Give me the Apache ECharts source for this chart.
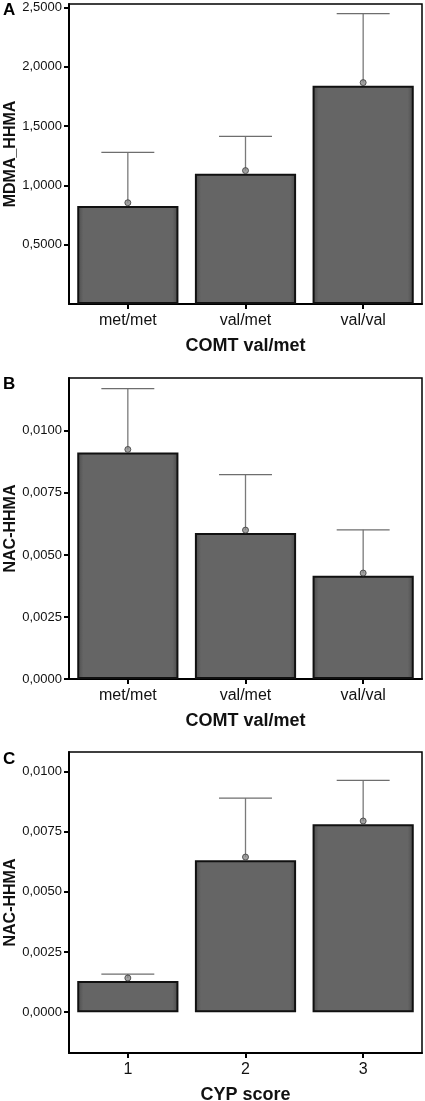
<!DOCTYPE html>
<html>
<head>
<meta charset="utf-8">
<script src="https://cdn.jsdelivr.net/npm/echarts@6/dist/echarts.min.js"></script>
<style>
html,body{margin:0;padding:0;background:#fff;}
#chart{width:425px;height:1101px;}
</style>
</head>
<body>
<div id="chart"></div>
<script>
// ---- data ----
const categoriesAB = ['met/met', 'val/met', 'val/val'];
const categoriesC = ['1', '2', '3'];

const barA = [0.826, 1.099, 1.841];
const meanA = [0.854, 1.125, 1.867];
const errTopA = [1.279, 1.413, 2.448];

const barB = [0.00913, 0.00588, 0.00416];
const meanB = [0.00925, 0.00600, 0.00427];
const errTopB = [0.0117, 0.00824, 0.00601];

const barC = [0.00129, 0.00632, 0.00781];
const meanC = [0.00142, 0.00645, 0.00795];
const errTopC = [0.00158, 0.00890, 0.00964];

const ticksA = [0.5, 1.0, 1.5, 2.0, 2.5];
const ticksBC = [0, 0.0025, 0.005, 0.0075, 0.01];

const panelLetters = ['A', 'B', 'C'];
const yNames = ['MDMA_HHMA', 'NAC-HHMA', 'NAC-HHMA'];
const xNames = ['COMT val/met', 'COMT val/met', 'CYP score'];

// ---- layout ----
const FONT = 'Liberation Sans, Arial, sans-serif';
const grids = [
  { left: 69, right: 3, top: 4, height: 300 },
  { left: 69, right: 3, top: 378, height: 301 },
  { left: 69, right: 3, top: 752, height: 301 }
];
const yRanges = [[0, 2.53], [0, 0.01213], [-0.0017, 0.01082]];
const yTicks = [ticksA, ticksBC, ticksBC];
const cats = [categoriesAB, categoriesAB, categoriesC];
const bars = [barA, barB, barC];
const means = [meanA, meanB, meanC];
const errs = [errTopA, errTopB, errTopC];

const fmt = v => Number(v).toFixed(4).replace('.', ',');

const barColor = {
  type: 'linear', x: 0, y: 0, x2: 1, y2: 0,
  colorStops: [
    { offset: 0, color: '#4a4a4a' },
    { offset: 0.06, color: '#656565' },
    { offset: 0.94, color: '#656565' },
    { offset: 1, color: '#4a4a4a' }
  ]
};

const option = {
  animation: false,
  backgroundColor: '#fff',
  textStyle: { fontFamily: FONT },
  grid: grids.map(g => Object.assign({
    show: true, borderColor: '#000', borderWidth: 1.5, backgroundColor: 'transparent',
    containLabel: false, outerBoundsMode: 'none'
  }, g)),
  xAxis: [0, 1, 2].map(i => ({
    type: 'category', gridIndex: i, data: cats[i],
    axisLine: { show: true, onZero: false, lineStyle: { color: '#000', width: 2 } },
    axisTick: { show: true, alignWithLabel: true, length: 5, lineStyle: { color: '#000', width: 2 } },
    axisLabel: { color: '#111', fontSize: 16, fontFamily: FONT, margin: 9 },
    name: xNames[i], nameLocation: 'middle', nameGap: 33, nameMoveOverlap: false,
    nameTextStyle: { color: '#111', fontSize: 18, fontWeight: 'bold', fontFamily: FONT },
    splitLine: { show: false }
  })),
  yAxis: [0, 1, 2].map(i => ({
    type: 'value', gridIndex: i, min: yRanges[i][0], max: yRanges[i][1],
    axisLine: { show: true, onZero: false, lineStyle: { color: '#000', width: 2 } },
    axisTick: { show: true, length: 5, lineStyle: { color: '#000', width: 2 }, customValues: yTicks[i] },
    axisLabel: { color: '#111', fontSize: 13, fontFamily: FONT, margin: 7, customValues: yTicks[i], formatter: fmt },
    splitLine: { show: false },
    name: yNames[i], nameLocation: 'middle', nameGap: 50, nameRotate: 90, nameMoveOverlap: false,
    nameTextStyle: { color: '#111', fontSize: 16, fontWeight: 'bold', fontFamily: FONT }
  })),
  series: []
};

for (let i = 0; i < 3; i++) {
  option.series.push({
    type: 'bar', xAxisIndex: i, yAxisIndex: i, data: bars[i], barWidth: '86%',
    itemStyle: { color: barColor, borderColor: '#111', borderWidth: 2 },
    z: 2
  });
  option.series.push({
    type: 'custom', xAxisIndex: i, yAxisIndex: i,
    data: means[i].map((m, k) => [k, m, errs[i][k]]),
    renderItem: function (params, api) {
      const x = api.value(0);
      const p0 = api.coord([x, api.value(1)]);
      const p1 = api.coord([x, api.value(2)]);
      const half = api.size([1, 0])[0] * 0.225;
      return {
        type: 'group',
        children: [
          { type: 'line', shape: { x1: p0[0], y1: p0[1], x2: p1[0], y2: p1[1] }, style: { stroke: '#7a7a7a', lineWidth: 1.3 } },
          { type: 'line', shape: { x1: p1[0] - half, y1: p1[1], x2: p1[0] + half, y2: p1[1] }, style: { stroke: '#6e6e6e', lineWidth: 1.3 } }
        ]
      };
    },
    z: 3
  });
  option.series.push({
    type: 'scatter', xAxisIndex: i, yAxisIndex: i,
    data: means[i].map((m, k) => [k, m]),
    symbol: 'circle', symbolSize: 6,
    itemStyle: { color: '#8a8a8a', borderColor: '#3a3a3a', borderWidth: 1 },
    z: 4
  });
}

option.graphic = panelLetters.map((t, i) => ({
  type: 'text', left: 3, top: [2, 376, 751][i],
  style: { text: t, font: 'bold 17px ' + FONT, fill: '#000' }
}));

const chart = echarts.init(document.getElementById('chart'), null, { renderer: 'canvas' });
chart.setOption(option);
</script>
</body>
</html>
